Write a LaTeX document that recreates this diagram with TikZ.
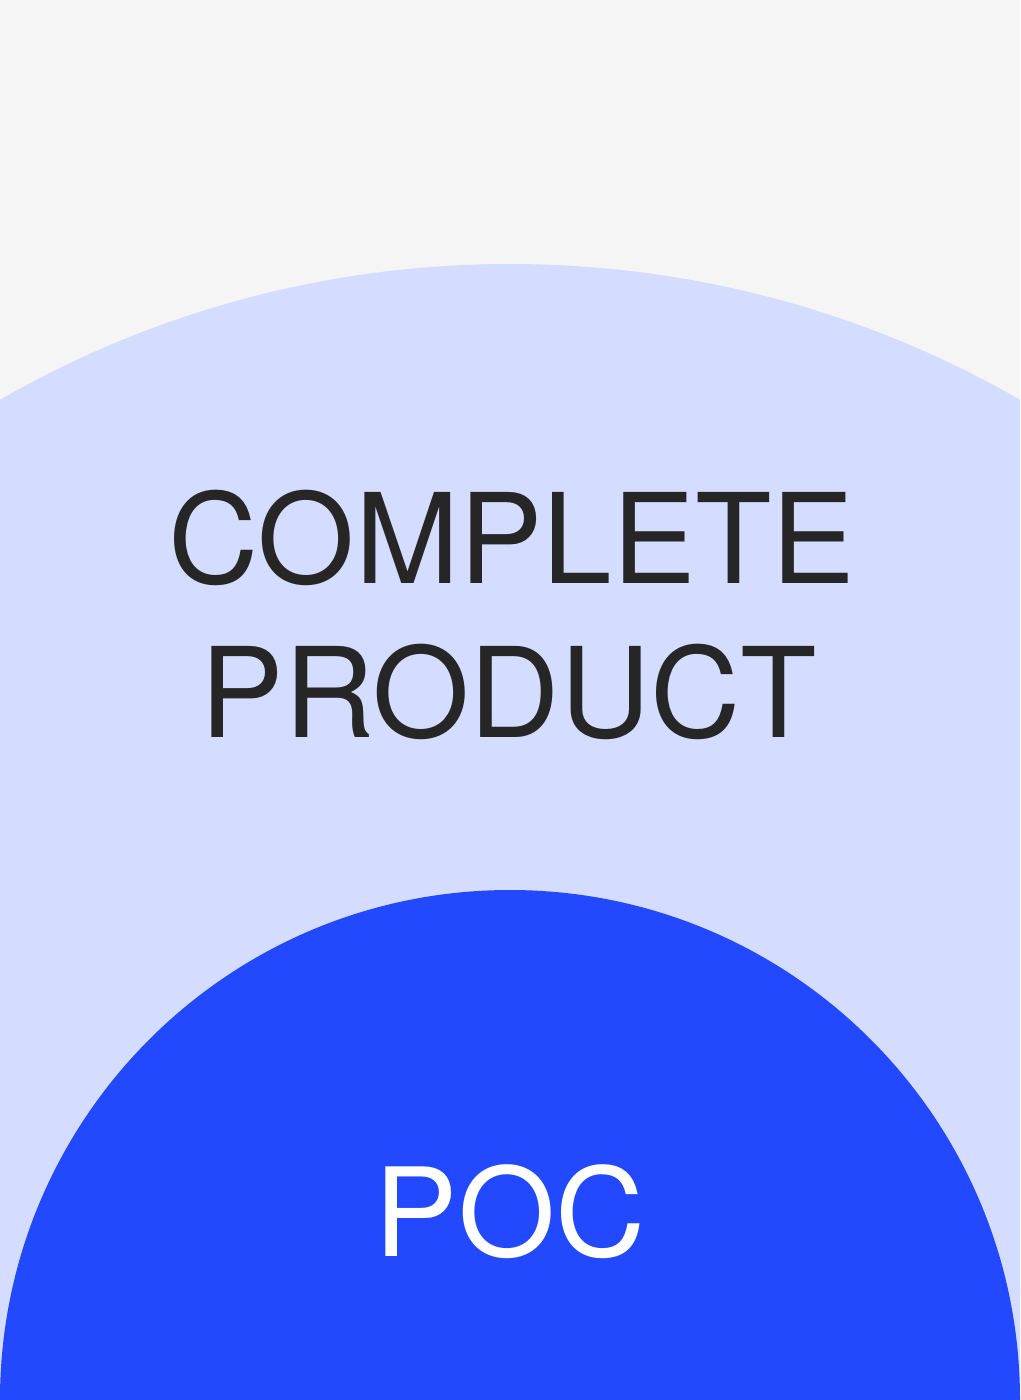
\documentclass[tikz,border=0pt]{standalone}
\usepackage{fontspec}
\setmainfont{TeX Gyre Heros}
\newfontfamily\pocfont[FakeStretch=1.015]{TeX Gyre Heros}
\definecolor{bggray}{HTML}{F5F5F5}
\definecolor{lightblue}{HTML}{D4DCFF}
\definecolor{strongblue}{HTML}{2349FF}
\definecolor{darktext}{HTML}{262626}
\tikzset{
  bigtext/.style={font=\fontsize{125}{154}\selectfont, text=darktext, align=center, inner sep=0pt},
  poctext/.style={font=\pocfont\fontsize{123}{150}\selectfont, text=white, inner sep=0pt}
}
\begin{document}
\begin{tikzpicture}[x=1pt,y=-1pt]
\useasboundingbox (0,0) rectangle (1020,1400);
\fill[bggray] (0,0) rectangle (1020,1400);
\begin{scope}
\clip (0,0) rectangle (1020,1400);
\fill[lightblue] (510,1288.25) circle[radius=1024.25];
\fill[strongblue] (510,1400) circle[radius=510];
\end{scope}
\node[bigtext, anchor=base] (l1) at (512,583) {COMPLETE};
\node[bigtext, anchor=base] (l2) at (509,737) {PRODUCT};
\node[poctext, anchor=base] (poc) at (510,1256) {POC};
\end{tikzpicture}
\end{document}
